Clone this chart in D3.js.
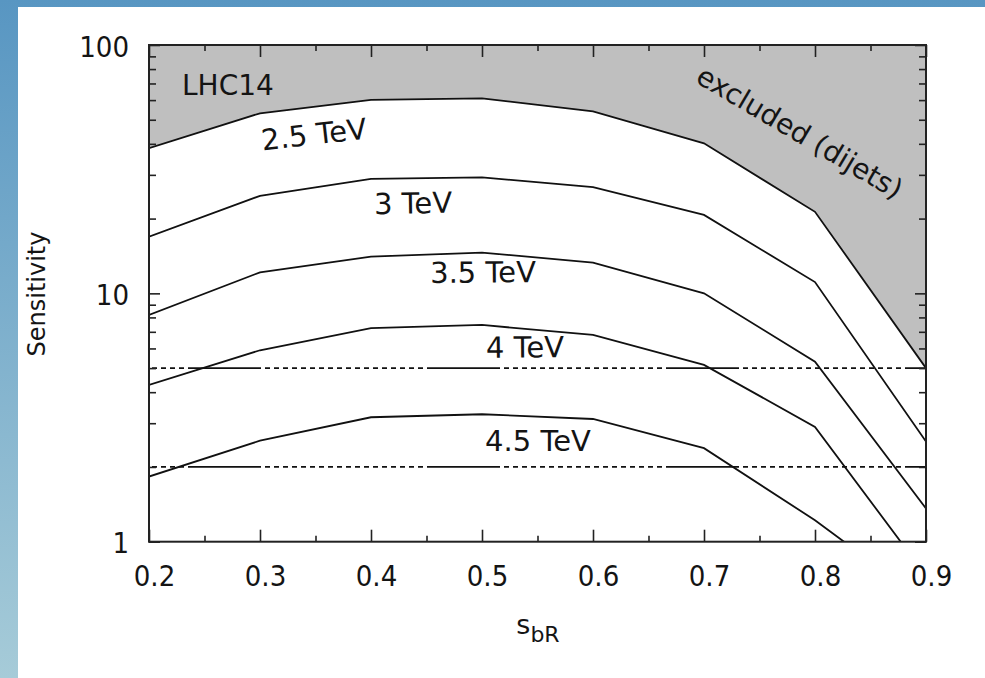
<!DOCTYPE html>
<html>
<head>
<meta charset="utf-8">
<script src="https://cdn.jsdelivr.net/npm/d3@7"></script>
<style>
  body { margin: 0; background: #fff; }
  svg text { fill: #141414; }
</style>
</head>
<body>
<svg id="chart" width="985" height="678"></svg>
<script>
// data
const sbR = [0.2, 0.3, 0.4, 0.5, 0.6, 0.7, 0.8, 0.9];
const sens25 = [38.4, 53.1, 60.1, 61.0, 54.0, 40.2, 21.3, 5.0];
const sens30 = [16.9, 24.7, 28.9, 29.3, 26.8, 20.7, 11.1, 2.53];
const sens35 = [8.19, 12.15, 14.05, 14.6, 13.3, 10.0, 5.31, 1.36];
const sens40 = [4.28, 5.9, 7.24, 7.46, 6.8, 5.15, 2.9, 0.73];
const sens45 = [1.83, 2.55, 3.17, 3.26, 3.12, 2.38, 1.22, 0.57];
const curveNames = ['2.5 TeV', '3 TeV', '3.5 TeV', '4 TeV', '4.5 TeV'];
const refLevels = [5, 2];
const xMajor = [0.2, 0.3, 0.4, 0.5, 0.6, 0.7, 0.8, 0.9];
const xMinor = [0.25, 0.35, 0.45, 0.55, 0.65, 0.75, 0.85];
const yMajor = [1, 10, 100];
const yMinor = [2, 3, 4, 5, 6, 7, 8, 9, 20, 30, 40, 50, 60, 70, 80, 90];

const svg = d3.select('#chart');

// slide background
const defs = svg.append('defs');
const grad = defs.append('linearGradient').attr('id', 'bg')
  .attr('x1', 0).attr('y1', 0).attr('x2', 0).attr('y2', 1);
grad.append('stop').attr('offset', 0).attr('stop-color', '#5896c2');
grad.append('stop').attr('offset', 1).attr('stop-color', '#a6cbd8');
svg.append('rect').attr('width', 985).attr('height', 678).attr('fill', 'url(#bg)');
svg.append('rect').attr('x', 18).attr('y', 7).attr('width', 967).attr('height', 671).attr('fill', '#fff');

const L = 149, R = 926, T = 45, B = 541.7;
const x = d3.scaleLinear().domain([0.2, 0.9]).range([L, R]);
const y = d3.scaleLog().domain([1, 100]).range([B, T]);

defs.append('clipPath').attr('id', 'plot')
  .append('rect').attr('x', L).attr('y', T).attr('width', R - L).attr('height', B - T);

const g = svg.append('g').attr('clip-path', 'url(#plot)');

const series = [sens25, sens30, sens35, sens40, sens45];

// excluded region above the 2.5 TeV curve
const area = d3.area()
  .x((d, i) => x(sbR[i]))
  .y0(y(100))
  .y1(d => y(d));
g.append('path').datum(sens25).attr('d', area).attr('fill', '#bfbfbf');

// reference lines (5 and 2)
const dash = [];
for (let i = 0; i < 18; i++) dash.push(5, 4);
dash.push(73, 4);
refLevels.forEach(v => {
  g.append('line')
    .attr('x1', L).attr('x2', R)
    .attr('y1', y(v)).attr('y2', y(v))
    .attr('stroke', '#111').attr('stroke-width', 1.7)
    .attr('stroke-dasharray', dash.join(','))
    .attr('stroke-dashoffset', 123);
});

const line = d3.line().x((d, i) => x(sbR[i])).y(d => y(d));
series.forEach(s => {
  g.append('path').datum(s).attr('d', line)
    .attr('fill', 'none').attr('stroke', '#111').attr('stroke-width', 1.8);
});

// axes, ticks pointing inward on all four sides
const tickStyle = sel => {
  sel.select('.domain').remove();
  sel.selectAll('line').attr('stroke', '#222').attr('stroke-width', 1.6);
};
const font = 'DejaVu Sans Condensed, DejaVu Sans, sans-serif';

svg.append('g').attr('transform', `translate(0,${B})`)
  .call(d3.axisBottom(x).tickValues(xMajor).tickSize(-12).tickPadding(24).tickFormat(d3.format('.1f')))
  .call(tickStyle)
  .call(s => s.selectAll('text').attr('font-family', font).attr('font-size', 29).attr('dx', 5));
svg.append('g').attr('transform', `translate(0,${B})`)
  .call(d3.axisBottom(x).tickValues(xMinor).tickSize(-6).tickFormat(''))
  .call(tickStyle);
svg.append('g').attr('transform', `translate(0,${T})`)
  .call(d3.axisTop(x).tickValues(xMajor).tickSize(-12).tickFormat(''))
  .call(tickStyle);
svg.append('g').attr('transform', `translate(0,${T})`)
  .call(d3.axisTop(x).tickValues(xMinor).tickSize(-6).tickFormat(''))
  .call(tickStyle);

svg.append('g').attr('transform', `translate(${L},0)`)
  .call(d3.axisLeft(y).tickValues(yMajor).tickSize(-11).tickPadding(20).tickFormat(d3.format('d')))
  .call(tickStyle)
  .call(s => s.selectAll('text').attr('font-family', font).attr('font-size', 29).attr('dy', '0.38em'));
svg.append('g').attr('transform', `translate(${L},0)`)
  .call(d3.axisLeft(y).tickValues(yMinor).tickSize(-7).tickFormat(''))
  .call(tickStyle);
svg.append('g').attr('transform', `translate(${R},0)`)
  .call(d3.axisRight(y).tickValues(yMajor).tickSize(-11).tickFormat(''))
  .call(tickStyle);
svg.append('g').attr('transform', `translate(${R},0)`)
  .call(d3.axisRight(y).tickValues(yMinor).tickSize(-7).tickFormat(''))
  .call(tickStyle);

svg.append('rect').attr('x', L).attr('y', T).attr('width', R - L).attr('height', B - T)
  .attr('fill', 'none').attr('stroke', '#222').attr('stroke-width', 2);

// text labels
const labelFont = 'DejaVu Sans, sans-serif';
const labelPos = [
  { cx: 314, cy: 134, rot: -6.5 },
  { cx: 413, cy: 203, rot: -1 },
  { cx: 483, cy: 272, rot: -0.5 },
  { cx: 525, cy: 347, rot: -0.5 },
  { cx: 538, cy: 441, rot: 0 }
];
curveNames.forEach((name, i) => {
  const p = labelPos[i];
  svg.append('text')
    .attr('transform', `translate(${p.cx},${p.cy}) rotate(${p.rot})`)
    .attr('text-anchor', 'middle').attr('dy', '0.36em')
    .attr('font-family', labelFont).attr('font-size', 29)
    .text(name);
});

svg.append('text').attr('x', 182).attr('y', 95)
  .attr('font-family', labelFont).attr('font-size', 28).text('LHC14');

svg.append('text')
  .attr('transform', 'translate(800,132) rotate(30.5)')
  .attr('text-anchor', 'middle').attr('dy', '0.36em')
  .attr('font-family', labelFont).attr('font-size', 28)
  .text('excluded (dijets)');

svg.append('text')
  .attr('transform', 'translate(36,294) rotate(-90)')
  .attr('text-anchor', 'middle').attr('dy', '0.36em')
  .attr('font-family', labelFont).attr('font-size', 24)
  .text('Sensitivity');

const xt = svg.append('text').attr('x', 538).attr('y', 634)
  .attr('text-anchor', 'middle').attr('font-family', labelFont).attr('font-size', 27);
xt.append('tspan').text('s');
xt.append('tspan').attr('dy', 8).attr('font-size', 22).text('bR');
</script>
</body>
</html>
